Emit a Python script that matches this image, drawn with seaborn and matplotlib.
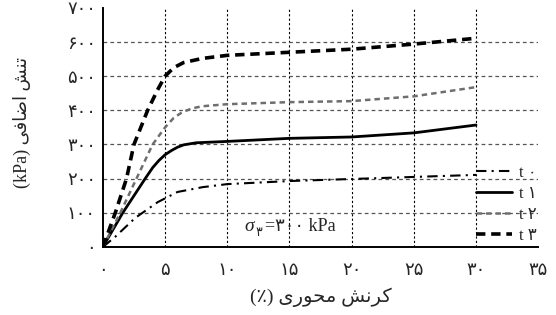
import numpy as np
import pandas as pd
import seaborn as sns
import matplotlib
matplotlib.use("Agg")
import matplotlib.pyplot as plt

# values (axial strain %, deviator stress kPa)
strain_t0 = [0, 1, 2.6, 4.4, 6, 8, 10, 15, 20, 25, 30]
stress_t0 = [0, 30, 85, 131, 161, 175, 184, 193, 199, 205, 211]

strain_t1 = [0, 1.6, 3.4, 4, 4.5, 5, 5.5, 6, 6.5, 7.5, 10, 15, 20, 25, 30]
stress_t1 = [0, 100, 200, 232, 253, 270, 282, 292, 299, 305, 309, 318, 322, 334, 357]

strain_t2 = [0, 1.4, 2.7, 4, 5, 5.7, 6.4, 7.2, 8, 10, 15, 20, 25, 30]
stress_t2 = [0, 100, 200, 300, 350, 378, 395, 406, 412, 418, 424, 427, 441, 468]

strain_t3 = [0, 1, 1.9, 2.5, 3.6, 4.4, 5, 5.7, 6.5, 8, 10, 15, 20, 25, 30]
stress_t3 = [0, 100, 200, 300, 400, 460, 500, 525, 540, 552, 561, 570, 579, 594, 611]

series_names = ["t ۰", "t ۱", "t ۲", "t ۳"]
x_ticks = [0, 5, 10, 15, 20, 25, 30, 35]
y_ticks = [0, 100, 200, 300, 400, 500, 600, 700]

fa_digits = str.maketrans("0123456789", "۰۱۲۳۴۵۶۷۸۹")

def fa(n):
    return str(n).translate(fa_digits)

# Persian labels, written in visual order with presentation forms
# (matplotlib does no bidi / shaping)
xlabel = "(٪) " + "\uFBFC\uFEAD\uFEEE\uFEA4\uFEE3" + " " + "\uFEB6\uFEE7\uFEAE\uFB90"
ylabel = "(kPa) " + "\uFBFD\uFED3\uFE8E\uFEBF\uFE8D" + " " + "\uFEB6\uFEE8\uFE97"

sns.set_style("white")
plt.rcParams['font.family'] = ['Liberation Serif', 'DejaVu Sans']

fig = plt.figure(figsize=(5.56, 3.15), dpi=100)
ax = fig.add_axes([0.185, 0.216, 0.783, 0.759])

data = [(strain_t0, stress_t0), (strain_t1, stress_t1),
        (strain_t2, stress_t2), (strain_t3, stress_t3)]
styles = [
    dict(color="black", lw=1.5, dashes=(5, 2.5, 1, 2.5)),
    dict(color="black", lw=2.0, dashes=()),
    dict(color="#6e6e6e", lw=1.8, dashes=(2.2, 1.6)),
    dict(color="black", lw=2.6, dashes=(2.6, 1.6)),
]

for (xs, ys), name, st in zip(data, series_names, styles):
    df = pd.DataFrame({"strain": xs, "stress": ys})
    sns.lineplot(data=df, x="strain", y="stress", ax=ax, sort=False,
                 color=st["color"], lw=st["lw"], label=name)
    l = ax.lines[-1]
    if st["dashes"]:
        l.set_dashes(st["dashes"])
    l.set_zorder(3)

# grid (interior only)
for v in x_ticks[1:-1]:
    ax.axvline(v, color="black", lw=0.8, ls=(0, (2, 2)), zorder=1)
for v in y_ticks[1:-1]:
    ax.axhline(v, color="#555555", lw=0.9, ls=(0, (3, 2.5)), zorder=1)

ax.set_xlim(0, 35)
ax.set_ylim(0, 700)
ax.set_xticks(x_ticks)
ax.set_xticklabels([fa(v) for v in x_ticks], fontsize=13)
ax.set_yticks(y_ticks)
ax.set_yticklabels([fa(v) for v in y_ticks], fontsize=13)
ax.tick_params(axis="x", length=0, pad=11)
ax.tick_params(axis="y", length=0, pad=5)

for s in ["top", "right"]:
    ax.spines[s].set_visible(False)
for s in ["left", "bottom"]:
    ax.spines[s].set_color("black")
    ax.spines[s].set_linewidth(1.4)

ax.set_xlabel(xlabel, fontsize=14, labelpad=6)
ax.set_ylabel(ylabel, fontsize=13)
ax.yaxis.set_label_coords(-0.165, 0.52)

# sigma_3 note
ax.text(11.4, 60, "σ", fontsize=14, fontstyle="italic", va="center", ha="left")
ax.annotate("۳", xy=(11.4, 60), xytext=(8, -5), textcoords="offset points",
            fontsize=9, va="center", ha="left")
ax.annotate("=۳۰۰ kPa", xy=(11.4, 60), xytext=(15, 0), textcoords="offset points",
            fontsize=13, va="center", ha="left")

leg = ax.legend(loc="lower right", bbox_to_anchor=(1.02, -0.03), frameon=False,
                fontsize=12, handlelength=2.2, handletextpad=0.4,
                labelspacing=0.3, borderaxespad=0.2)

fig.savefig("out.png", dpi=100)
